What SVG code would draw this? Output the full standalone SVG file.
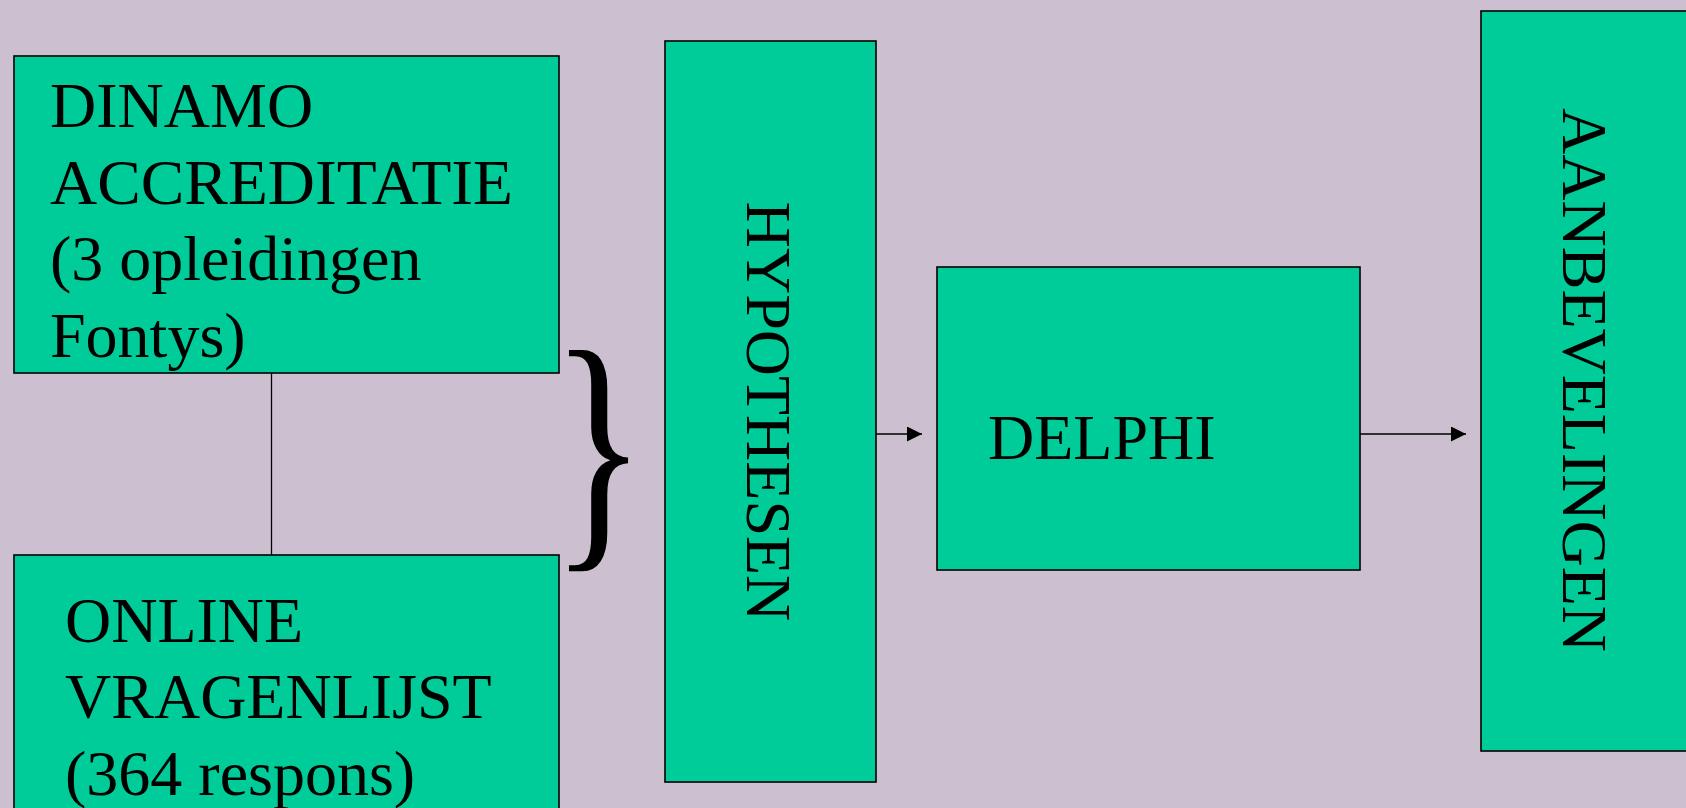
<svg xmlns="http://www.w3.org/2000/svg" width="1686" height="808" viewBox="0 0 1686 808">
<style>
.box{fill:#00CC99;stroke:#000;stroke-width:1.6}
.t{font-family:"Liberation Serif","Times New Roman",serif;font-size:64px;fill:#000}
.c{stroke:#000;stroke-width:1.3;fill:none}
</style>
<defs>
<marker id="ah" markerWidth="15" markerHeight="15" refX="15" refY="7.5" orient="auto" markerUnits="userSpaceOnUse">
<path d="M0,0 L15,7.5 L0,15 Z" fill="#000"/>
</marker>
</defs>
<rect x="0" y="0" width="1686" height="808" fill="#CBBFD0"/>
<g id="connectors">
<line class="c" x1="271.5" y1="373" x2="271.5" y2="555"/>
<line class="c" x1="876" y1="434" x2="922" y2="434" marker-end="url(#ah)"/>
<line class="c" x1="1360" y1="434" x2="1466" y2="434" marker-end="url(#ah)"/>
</g>
<g id="dinamo">
<rect class="box" x="14" y="56" width="545" height="317"/>
<text class="t" x="50" y="127">DINAMO</text>
<text class="t" x="50" y="204" textLength="463" lengthAdjust="spacingAndGlyphs">ACCREDITATIE</text>
<text class="t" x="50" y="280">(3 opleidingen</text>
<text class="t" x="50" y="357">Fontys)</text>
</g>
<g id="online">
<rect class="box" x="14" y="555" width="545" height="270"/>
<text class="t" x="65" y="642">ONLINE</text>
<text class="t" x="65" y="718">VRAGENLIJST</text>
<text class="t" x="65" y="795">(364 respons)</text>
</g>
<g id="brace">
<text class="t" transform="translate(551,535.5) scale(1,1.35)" style="font-size:198px">}</text>
</g>
<g id="hypothesen">
<rect class="box" x="665" y="41" width="211" height="741"/>
<text class="t" text-anchor="middle" transform="translate(747,411.5) rotate(90)">HYPOTHESEN</text>
</g>
<g id="delphi">
<rect class="box" x="937" y="267" width="423" height="303"/>
<text class="t" x="988" y="459">DELPHI</text>
</g>
<g id="aanbevelingen">
<rect class="box" x="1481" y="11" width="230" height="740"/>
<text class="t" text-anchor="middle" transform="translate(1563,380) rotate(90)">AANBEVELINGEN</text>
</g>
</svg>
